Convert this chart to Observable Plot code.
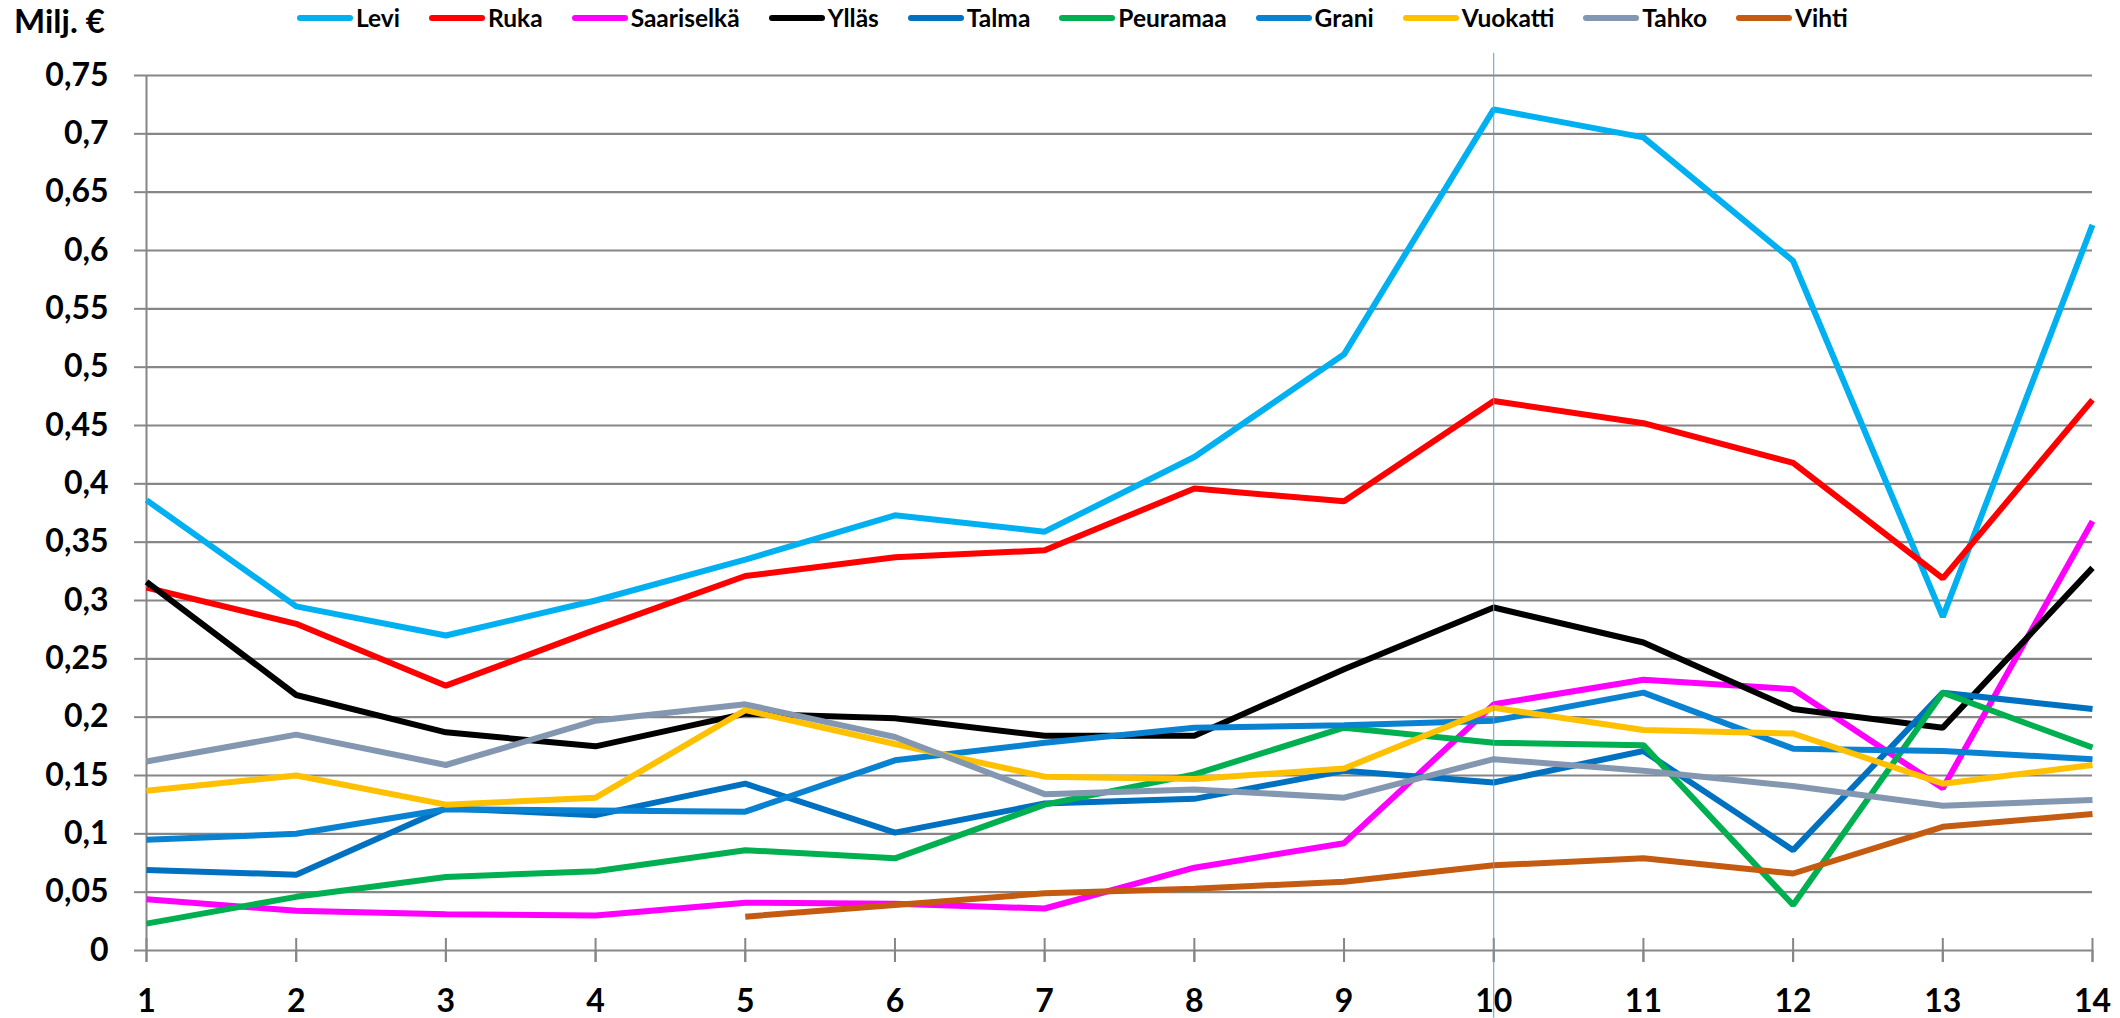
<!DOCTYPE html>
<html><head><meta charset="utf-8">
<script src="https://cdn.jsdelivr.net/npm/d3@7"></script>
<script src="https://cdn.jsdelivr.net/npm/@observablehq/plot@0.6"></script>
<style>
body{margin:0;background:#fff;}
#wrap{position:relative;width:2120px;height:1018px;}
#unit{position:absolute;left:14px;top:0px;font:700 33px Lato, sans-serif;color:#000;white-space:nowrap;}
#legend{position:absolute;left:297px;top:3px;display:flex;gap:29px;font:700 24.5px Lato, sans-serif;color:#000;}
.item{display:flex;align-items:center;gap:3px;white-space:nowrap;}
.sw{width:56px;height:6px;border-radius:3px;}
</style></head>
<body><div id="wrap"><div id="unit">Milj. €</div><div id="legend"></div><div id="chart"></div></div>
<script>
const periods = [1,2,3,4,5,6,7,8,9,10,11,12,13,14];
const yTicks = [0,0.05,0.1,0.15,0.2,0.25,0.3,0.35,0.4,0.45,0.5,0.55,0.6,0.65,0.7,0.75];
const seriesNames = ["Levi","Ruka","Saariselkä","Ylläs","Talma","Peuramaa","Grani","Vuokatti","Tahko","Vihti"];
const seriesColors = ["#00B0F0","#FF0000","#FF00FF","#000000","#0070C0","#00B050","#0A82D2","#FFC000","#8497B0","#C55A11"];

const levi      = [0.386,0.295,0.270,0.300,0.335,0.373,0.359,0.423,0.511,0.721,0.697,0.591,0.286,0.622];
const ruka      = [0.311,0.280,0.227,0.275,0.321,0.337,0.343,0.396,0.385,0.471,0.452,0.418,0.319,0.472];
const saariselka= [0.044,0.034,0.031,0.030,0.041,0.040,0.036,0.071,0.092,0.211,0.232,0.224,0.139,0.368];
const yllas     = [0.316,0.219,0.187,0.175,0.203,0.199,0.184,0.184,0.241,0.294,0.264,0.207,0.191,0.328];
const talma     = [0.069,0.065,0.122,0.116,0.143,0.101,0.126,0.130,0.154,0.144,0.171,0.086,0.221,0.207];
const peuramaa  = [0.023,0.046,0.063,0.068,0.086,0.079,0.125,0.151,0.191,0.178,0.176,0.039,0.221,0.174];
const grani     = [0.095,0.100,0.121,0.120,0.119,0.163,0.178,0.191,0.193,0.197,0.221,0.173,0.171,0.164];
const vuokatti  = [0.137,0.150,0.125,0.131,0.206,0.177,0.149,0.147,0.156,0.208,0.189,0.186,0.143,0.159];
const tahko     = [0.162,0.185,0.159,0.197,0.211,0.183,0.134,0.138,0.131,0.164,0.154,0.141,0.124,0.129];
const vihti     = [null,null,null,null,0.029,0.039,0.049,0.053,0.059,0.073,0.079,0.066,0.106,0.117];

const markerPeriod = [10];
const markerExtent = [0.769, -0.058];

const seriesValues = [levi,ruka,saariselka,yllas,talma,peuramaa,grani,vuokatti,tahko,vihti];
const rows = [];
seriesNames.forEach((name, i) => {
  periods.forEach((p, j) => {
    rows.push({series: name, period: p, value: seriesValues[i][j]});
  });
});

const fmt = d => String(+d.toFixed(2)).replace(".", ",");

const chart = Plot.plot({
  width: 2120,
  height: 1018,
  marginLeft: 146,
  marginRight: 28,
  marginTop: 75,
  marginBottom: 68,
  style: {fontFamily: "Lato, sans-serif", fontWeight: 700, fontSize: "32px", color: "#000", background: "transparent"},
  x: {domain: [1, 14]},
  y: {domain: [0, 0.75]},
  color: {domain: seriesNames, range: seriesColors},
  marks: [
    Plot.gridY(yTicks, {stroke: "#868686", strokeOpacity: 1, strokeWidth: 2.2}),
    Plot.ruleX([1], {stroke: "#868686", strokeWidth: 2}),
    Plot.axisY(yTicks, {tickSize: 12, tickPadding: 26, tickFormat: fmt, stroke: "#868686", strokeWidth: 2, fill: "#000", label: null}),
    Plot.axisX(periods, {tickSize: 12, tickPadding: 27, tickFormat: d => String(d), stroke: "#868686", strokeWidth: 2, fill: "#000", label: null}),
    Plot.ruleX(periods, {y1: 0, y2: 0, insetTop: -12, insetBottom: -12, stroke: "#868686", strokeWidth: 2}),
    Plot.line(rows.filter(r => r.value != null), {x: "period", y: "value", z: "series", stroke: "series", strokeWidth: 6, strokeLinejoin: "miter", strokeLinecap: "butt"}),
    Plot.ruleX(markerPeriod, {y1: markerExtent[0], y2: markerExtent[1], stroke: "#5B9BD5", strokeWidth: 1})
  ]
});
document.getElementById("chart").appendChild(chart);

const legend = document.getElementById("legend");
seriesNames.forEach((name, i) => {
  const item = document.createElement("div");
  item.className = "item";
  const sw = document.createElement("span");
  sw.className = "sw";
  sw.style.background = seriesColors[i];
  const t = document.createElement("span");
  t.textContent = name;
  item.appendChild(sw);
  item.appendChild(t);
  legend.appendChild(item);
});
</script>
</body></html>
